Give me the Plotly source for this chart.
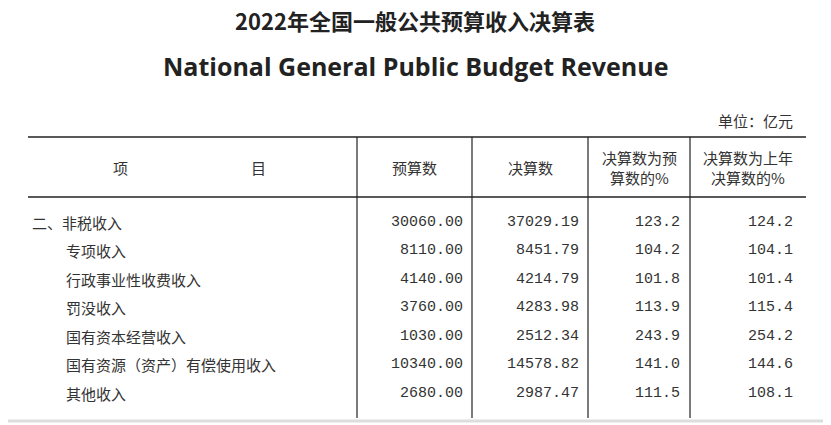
import plotly.graph_objects as go

title_cn = "2022年全国一般公共预算收入决算表"
title_en = "National General Public Budget Revenue"
unit = "单位：亿元"
headers = ["预算数", "决算数", "决算数为预<br>算数的%", "决算数为上年<br>决算数的%"]

items = ["二、非税收入", "专项收入", "行政事业性收费收入", "罚没收入",
         "国有资本经营收入", "国有资源（资产）有偿使用收入", "其他收入"]
budget = ["30060.00", "8110.00", "4140.00", "3760.00", "1030.00", "10340.00", "2680.00"]
actual = ["37029.19", "8451.79", "4214.79", "4283.98", "2512.34", "14578.82", "2987.47"]
pct_budget = ["123.2", "104.2", "101.8", "113.9", "243.9", "141.0", "111.5"]
pct_last = ["124.2", "104.1", "101.4", "115.4", "254.2", "144.6", "108.1"]

cjk = "Noto Sans CJK SC"
num_font = dict(family="Liberation Mono", size=15, color="#333")
txt = dict(family=cjk, size=15, color="#333")

fig = go.Figure()
ann = []
ann.append(dict(x=415, y=20, text="<b>" + title_cn + "</b>", font=dict(family=cjk, size=22, color="#222")))
ann.append(dict(x=415, y=66, text="<b>" + title_en + "</b>", font=dict(family="Open Sans", size=25, color="#222")))
ann.append(dict(x=795, y=120, text=unit, xanchor="right", font=txt))
ann.append(dict(x=120, y=167, text="项", font=txt))
ann.append(dict(x=258, y=167, text="目", font=txt))
col_mid = [414, 530, 639, 748]
for cx, h in zip(col_mid, headers):
    ann.append(dict(x=cx, y=167, text=h, font=txt))

col_right = [465, 581, 682, 795]
row0, step = 222, 28.5
for i, name in enumerate(items):
    y = row0 + i * step
    ann.append(dict(x=30 if i == 0 else 64, y=y, text=name, xanchor="left", font=txt))
    for cx, v in zip(col_right, [budget[i], actual[i], pct_budget[i], pct_last[i]]):
        ann.append(dict(x=cx, y=y, text=v, xanchor="right", font=num_font))

for a in ann:
    a.update(xref="x", yref="y", showarrow=False)
    a.setdefault("xanchor", "center")
    a["yanchor"] = "middle"

shapes = [
    dict(type="line", x0=28, x1=806, y0=137, y1=137, line=dict(color="#222", width=1.5)),
    dict(type="line", x0=28, x1=806, y0=197, y1=197, line=dict(color="#222", width=1.5)),
    dict(type="line", x0=0, x1=831, y0=421, y1=421, line=dict(color="#ddd", width=3)),
]
for vx in [357, 472, 588, 690]:
    shapes.append(dict(type="line", x0=vx, x1=vx, y0=137, y1=418, line=dict(color="#222", width=1.2)))

fig.update_layout(
    width=831, height=425, margin=dict(l=0, r=0, t=0, b=0),
    plot_bgcolor="white", paper_bgcolor="white",
    xaxis=dict(range=[8, 839], visible=False, fixedrange=True),
    yaxis=dict(range=[433, 8], visible=False, fixedrange=True),
    annotations=ann, shapes=shapes, showlegend=False,
)
fig.write_html("out.html")
